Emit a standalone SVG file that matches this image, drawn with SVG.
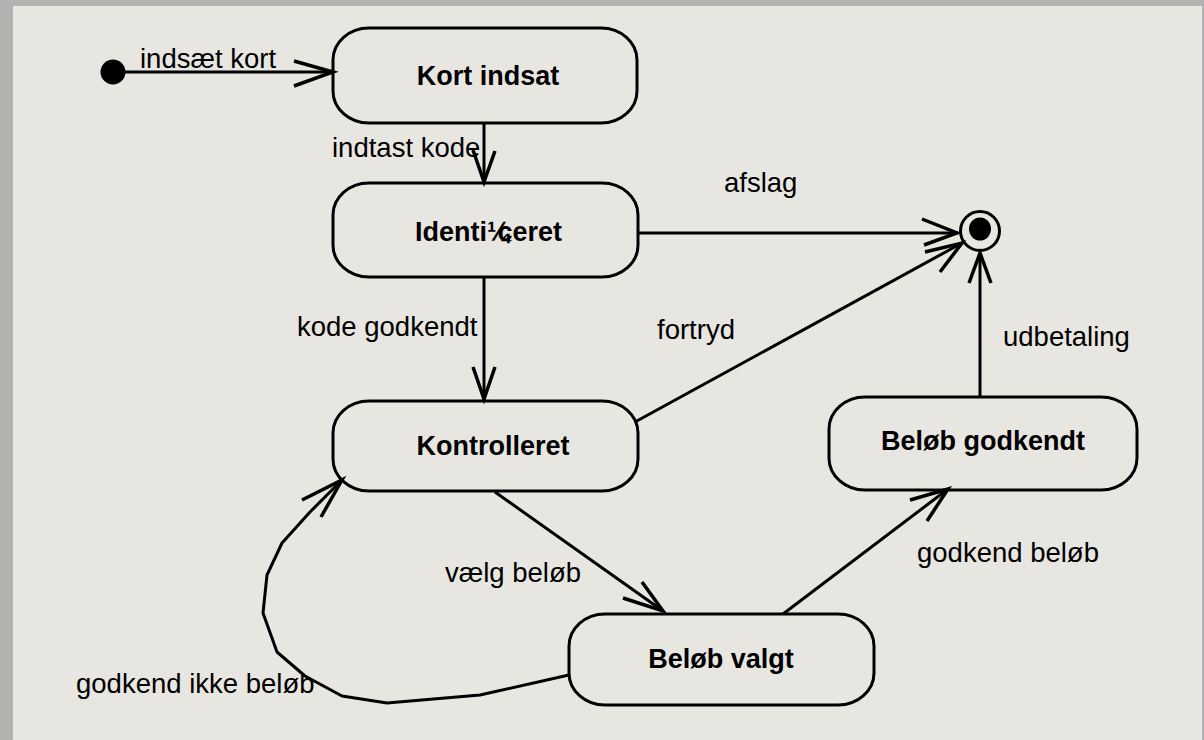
<svg xmlns="http://www.w3.org/2000/svg" width="1204" height="740" viewBox="0 0 1204 740">
  <style>
    .state { fill: none; stroke: #000; stroke-width: 3; }
    .name { font-family: "Liberation Sans", Arial, sans-serif; font-size: 27px; font-weight: bold; fill: #000; text-anchor: middle; }
    .lbl { font-family: "Liberation Sans", Arial, sans-serif; font-size: 27.5px; fill: #000; }
    .edge { fill: none; stroke: #000; stroke-width: 3; stroke-linejoin: round; }
    .head { fill: none; stroke: #000; stroke-width: 3.5; stroke-linecap: butt; }
  </style>

  <!-- frame and canvas -->
  <rect x="0" y="0" width="1204" height="740" fill="#b3b2b0"/>
  <rect x="13" y="6" width="1189" height="734" fill="#e8e6e1"/>

  <!-- pseudo states -->
  <g id="start">
    <circle cx="113" cy="72" r="12.5" fill="#000"/>
  </g>
  <g id="end">
    <circle cx="980" cy="231" r="19.5" fill="none" stroke="#000" stroke-width="3"/>
    <ellipse cx="980" cy="229" rx="11" ry="11.5" fill="#000"/>
  </g>

  <!-- states -->
  <g id="kort-indsat">
    <rect class="state" x="333" y="28" width="304" height="95" rx="36" ry="32"/>
    <text class="name" x="488" y="85">Kort indsat</text>
  </g>
  <g id="identificeret">
    <rect class="state" x="333" y="183" width="305" height="94" rx="36" ry="32"/>
    <text class="name" x="415" y="241" style="text-anchor:start">Identi¼<tspan dx="-12">ceret</tspan></text>
  </g>
  <g id="kontrolleret">
    <rect class="state" x="333" y="401" width="305" height="90" rx="36" ry="32"/>
    <text class="name" x="493" y="455">Kontrolleret</text>
  </g>
  <g id="beloeb-godkendt">
    <rect class="state" x="829" y="397" width="308" height="93" rx="36" ry="32"/>
    <text class="name" x="983" y="450">Beløb godkendt</text>
  </g>
  <g id="beloeb-valgt">
    <rect class="state" x="569" y="614" width="305" height="91" rx="36" ry="32"/>
    <text class="name" x="721" y="668">Beløb valgt</text>
  </g>

  <!-- transitions -->
  <g id="connectors">
    <!-- start -> Kort indsat -->
    <line class="edge" x1="113" y1="72" x2="333" y2="72"/>
    <polyline class="head" points="294,61 333,72 294,86"/>

    <!-- Kort indsat -> Identificeret -->
    <line class="edge" x1="484" y1="123" x2="484" y2="183"/>
    <polyline class="head" points="473,150 484,182 495,151"/>

    <!-- Identificeret -> Kontrolleret -->
    <line class="edge" x1="484" y1="277" x2="484" y2="401"/>
    <polyline class="head" points="473,367 484,399 495,367"/>

    <!-- Identificeret -> end (afslag) -->
    <line class="edge" x1="638" y1="233" x2="958" y2="233"/>
    <polyline class="head" points="922,219 957,233 924,245"/>

    <!-- Kontrolleret -> end (fortryd) -->
    <line class="edge" x1="635" y1="422" x2="962" y2="243"/>
    <polyline class="head" points="925,252 962,243 940,272"/>

    <!-- Beløb godkendt -> end (udbetaling) -->
    <line class="edge" x1="980" y1="397" x2="980" y2="253"/>
    <polyline class="head" points="969,283 980,253 991,283"/>

    <!-- Kontrolleret -> Beløb valgt -->
    <line class="edge" x1="495" y1="492" x2="663" y2="611"/>
    <polyline class="head" points="623,598 663,611 642,582"/>

    <!-- Beløb valgt -> Beløb godkendt -->
    <line class="edge" x1="783" y1="614" x2="948" y2="489"/>
    <polyline class="head" points="910,500 948,489 927,521"/>

    <!-- Beløb valgt -> Kontrolleret (loop) -->
    <polyline class="edge" points="569,675 480,695 387,703 342,696 305,676 277,652 263,613 267,575 282,543 310,512 342,480"/>
    <polyline class="head" points="302,500 342,480 321,517"/>
  </g>

  <!-- transition labels -->
  <g id="labels">
    <text class="lbl" x="140" y="68">indsæt kort</text>
    <text class="lbl" x="332" y="157">indtast kode</text>
    <text class="lbl" x="724" y="192">afslag</text>
    <text class="lbl" x="297" y="336">kode godkendt</text>
    <text class="lbl" x="657" y="339">fortryd</text>
    <text class="lbl" x="1003" y="346">udbetaling</text>
    <text class="lbl" x="917" y="562">godkend beløb</text>
    <text class="lbl" x="445" y="582">vælg beløb</text>
    <text class="lbl" x="76" y="693">godkend ikke beløb</text>
  </g>
</svg>
